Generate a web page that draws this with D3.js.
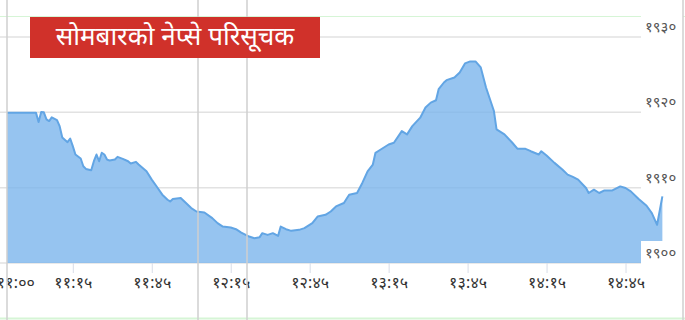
<!DOCTYPE html>
<html>
<head>
<meta charset="utf-8">
<script src="https://cdn.jsdelivr.net/npm/d3@7"></script>
<style>
  body { margin: 0; background: #fff; }
  svg { display: block; font-family: "Noto Sans Devanagari", "Noto Sans", "DejaVu Sans", sans-serif; }
</style>
</head>
<body>
<svg id="chart"></svg>
<script>
const title = 'सोमबारको नेप्से परिसूचक';

// intraday NEPSE index
const times = [
  '10:50', '11:01', '11:02', '11:03', '11:04', '11:05', '11:06', '11:07', '11:09', '11:10',
  '11:11', '11:13', '11:14', '11:15', '11:16', '11:18', '11:19', '11:20', '11:22', '11:23',
  '11:24', '11:25', '11:26', '11:27', '11:28', '11:29', '11:31', '11:32', '11:34', '11:36',
  '11:37', '11:39', '11:40', '11:43', '11:45', '11:47', '11:49', '11:51', '11:52', '11:53',
  '11:56', '11:58', '12:00', '12:02', '12:05', '12:08', '12:10', '12:12', '12:15', '12:17',
  '12:19', '12:22', '12:24', '12:26', '12:27', '12:29', '12:31', '12:33', '12:34', '12:36',
  '12:38', '12:41', '12:43', '12:46', '12:48', '12:51', '12:53', '12:55', '12:58', '13:00',
  '13:03', '13:05', '13:07', '13:09', '13:10', '13:12', '13:15', '13:17', '13:20', '13:22',
  '13:24', '13:27', '13:29', '13:31', '13:33', '13:34', '13:36', '13:37', '13:40', '13:42',
  '13:44', '13:46', '13:48', '13:50', '13:52', '13:55', '13:56', '13:59', '14:02', '14:04',
  '14:07', '14:09', '14:12', '14:13', '14:15', '14:18', '14:21', '14:23', '14:25', '14:27',
  '14:30', '14:31', '14:33', '14:35', '14:37', '14:40', '14:43', '14:45', '14:47', '14:50',
  '14:53', '14:55', '14:57', '14:59'
];
const values = [
  1919.96, 1919.96, 1918.71, 1920.04, 1920.00, 1919.07, 1918.84, 1919.33, 1918.97, 1918.17,
  1916.67, 1916.04, 1916.53, 1915.51, 1914.40, 1913.87, 1912.84, 1912.49, 1912.31, 1913.51,
  1914.40, 1913.51, 1914.63, 1914.40, 1913.73, 1913.60, 1913.73, 1914.09, 1913.83, 1913.51,
  1913.20, 1913.43, 1913.07, 1912.17, 1911.07, 1910.09, 1909.07, 1908.40, 1908.17, 1908.49,
  1908.63, 1907.96, 1907.29, 1906.84, 1906.71, 1905.96, 1905.29, 1904.84, 1904.71, 1904.49,
  1904.04, 1903.51, 1903.29, 1903.43, 1903.96, 1903.73, 1903.96, 1903.60, 1904.84, 1904.49,
  1904.27, 1904.40, 1904.63, 1905.29, 1906.17, 1906.40, 1906.84, 1907.51, 1907.96, 1909.07,
  1909.29, 1910.63, 1912.17, 1913.07, 1914.63, 1915.07, 1915.73, 1915.96, 1917.51, 1917.07,
  1918.17, 1919.29, 1920.63, 1921.29, 1921.60, 1923.07, 1923.96, 1924.27, 1924.63, 1925.29,
  1926.49, 1926.76, 1926.76, 1925.96, 1923.29, 1920.17, 1917.73, 1917.07, 1915.96, 1915.16,
  1915.16, 1914.84, 1914.40, 1914.84, 1914.27, 1913.29, 1912.40, 1911.73, 1911.43, 1911.07,
  1909.96, 1909.29, 1909.73, 1909.29, 1909.64, 1909.64, 1910.17, 1909.96, 1909.51, 1908.49,
  1907.60, 1906.63, 1905.07, 1908.84
];

const yTicks = [1900, 1910, 1920, 1930];
const xTickTimes = ['11:00', '11:15', '11:45', '12:15', '12:45', '13:15', '13:45', '14:15', '14:45'];

const width = 685;
const height = 320;

const devDigits = '०१२३४५६७८९';
const toDev = (s) => String(s).replace(/[0-9]/g, (d) => devDigits[+d]);

const parseTime = d3.timeParse('%H:%M');
const fmtTime = d3.timeFormat('%H:%M');

const data = times.map((t, i) => ({ time: parseTime(t), value: values[i] }));

const svg = d3.select('#chart').attr('width', width).attr('height', height);

const x = d3.scaleTime().domain([parseTime('10:50'), parseTime('15:00')]).range([7, 665]);
const y = d3.scaleLinear().domain([1900, 1930]).range([263, 37]);

// frame lines around the picture
svg.append('line').attr('x1', 0).attr('x2', width).attr('y1', 16.5).attr('y2', 16.5)
  .attr('stroke', '#d6f5d6');
svg.append('line').attr('x1', 0).attr('x2', width).attr('y1', 318.5).attr('y2', 318.5)
  .attr('stroke', '#d6f5d6').attr('stroke-width', 2);

// horizontal grid
svg.append('g')
  .selectAll('line')
  .data(yTicks)
  .enter()
  .append('line')
  .attr('x1', 0)
  .attr('x2', 641)
  .attr('y1', (d) => y(d))
  .attr('y2', (d) => y(d))
  .attr('stroke', '#e2e2e2')
  .attr('stroke-width', 1.5);

// area + line
const area = d3.area()
  .x((d) => x(d.time))
  .y0(y(1900))
  .y1((d) => y(d.value));
const line = d3.line()
  .x((d) => x(d.time))
  .y((d) => y(d.value));

svg.append('path').datum(data).attr('d', area)
  .attr('fill', '#7cb5ec').attr('fill-opacity', 0.8);
svg.append('path').datum(data).attr('d', line)
  .attr('fill', 'none').attr('stroke', '#62a5e4').attr('stroke-width', 2)
  .attr('stroke-linejoin', 'round');

// x axis
const xAxis = d3.axisBottom(x)
  .tickValues(xTickTimes.map(parseTime))
  .tickFormat((d) => toDev(fmtTime(d)))
  .tickSize(10)
  .tickPadding(4);

const gx = svg.append('g').attr('transform', `translate(0,${y(1900)})`).call(xAxis);
gx.select('.domain').remove();
gx.selectAll('.tick line').attr('stroke', '#d8dde8');
gx.selectAll('.tick text')
  .attr('font-size', 16)
  .attr('fill', '#333')
  .attr('font-family', '"Noto Sans Devanagari", "Noto Sans", sans-serif');
// first label sits at the left edge with no tick mark
gx.selectAll('.tick').filter((d, i) => i === 0).select('line').remove();
gx.selectAll('.tick').filter((d, i) => i === 0).select('text').attr('dx', -18);

// y labels on the right
const yLab = svg.append('g')
  .selectAll('g')
  .data(yTicks)
  .enter()
  .append('g')
  .attr('transform', (d) => `translate(641,${y(d)})`);
yLab.append('rect')
  .attr('x', 0).attr('y', -22).attr('width', 42).attr('height', 22)
  .attr('fill', '#fff');
yLab.append('text')
  .attr('x', 4)
  .attr('y', -9)
  .attr('dominant-baseline', 'middle')
  .attr('font-size', 15)
  .attr('fill', '#555')
  .text((d) => toDev(d));

// vertical frame lines
[7, 198, 247].forEach((vx) => {
  svg.append('line').attr('x1', vx).attr('x2', vx).attr('y1', 0).attr('y2', height)
    .attr('stroke', '#cfcfcf').attr('stroke-width', 1.5);
});
svg.append('line').attr('x1', 683).attr('x2', 683).attr('y1', 0).attr('y2', height)
  .attr('stroke', '#cfcfcf').attr('stroke-width', 1.5);

// title box
const tb = svg.append('g');
tb.append('rect')
  .attr('x', 30).attr('y', 17).attr('width', 290).attr('height', 41)
  .attr('fill', '#d0312a');
tb.append('text')
  .attr('x', 175).attr('y', 38)
  .attr('text-anchor', 'middle')
  .attr('dominant-baseline', 'middle')
  .attr('font-size', 26)
  .attr('fill', '#fff')
  .text(title);
</script>
</body>
</html>
